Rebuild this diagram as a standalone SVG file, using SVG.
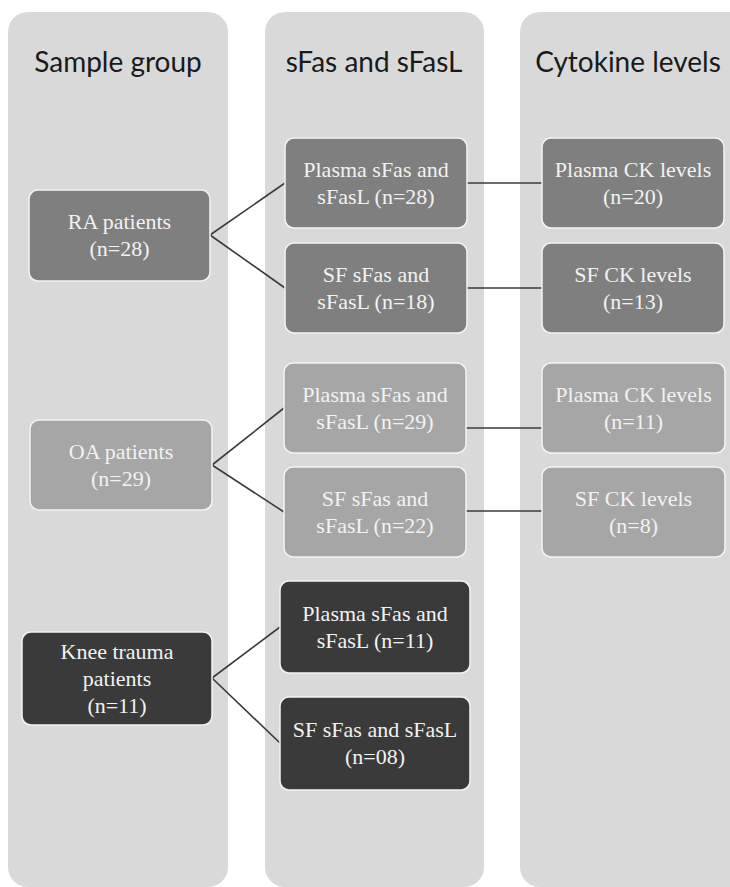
<svg xmlns="http://www.w3.org/2000/svg" width="730" height="887" viewBox="0 0 730 887">
<style>
.panel{fill:#d9d9d9}
.hdr{font-family:Lato,"Liberation Sans",sans-serif;font-size:28px;fill:#1a1a1a;text-anchor:middle}
.box{stroke:#f4f4f4;stroke-width:1.5}
.ra{fill:#7f7f7f}
.oa{fill:#a6a6a6}
.kn{fill:#3a3a3a}
.t{font-family:"Liberation Serif","Times New Roman",serif;font-size:22px;fill:#f2f2f2;text-anchor:middle}
.c{stroke:#3a3a3a;stroke-width:1.6;fill:none}
</style>
<rect width="730" height="887" fill="#ffffff"/>
<g id="panels">
<rect class="panel" x="8" y="12" width="220" height="875" rx="20"/>
<rect class="panel" x="265" y="12" width="219" height="875" rx="20"/>
<rect class="panel" x="520" y="12" width="230" height="875" rx="20"/>
<text class="hdr" x="118" y="72">Sample group</text>
<text class="hdr" x="374" y="72">sFas and sFasL</text>
<text class="hdr" x="628" y="72">Cytokine levels</text>
</g>
<g id="connectors">
<line class="c" x1="210" y1="235" x2="285" y2="183"/>
<line class="c" x1="210" y1="235" x2="285" y2="288"/>
<line class="c" x1="467" y1="183" x2="542" y2="183"/>
<line class="c" x1="467" y1="288" x2="542" y2="288"/>
<line class="c" x1="212" y1="465" x2="284" y2="408"/>
<line class="c" x1="212" y1="465" x2="284" y2="512"/>
<line class="c" x1="466" y1="428" x2="542" y2="428"/>
<line class="c" x1="466" y1="511" x2="542" y2="511"/>
<line class="c" x1="212" y1="678" x2="280" y2="627"/>
<line class="c" x1="212" y1="678" x2="280" y2="743"/>
</g>
<g id="ra">
<rect class="box ra" x="29" y="190" width="181" height="91" rx="9"/>
<text class="t" x="119.5" y="229">RA patients</text>
<text class="t" x="119.5" y="256">(n=28)</text>
</g>
<g id="ra-plasma">
<rect class="box ra" x="285" y="138" width="182" height="90" rx="9"/>
<text class="t" x="376" y="177">Plasma sFas and</text>
<text class="t" x="376" y="204">sFasL (n=28)</text>
</g>
<g id="ra-sf">
<rect class="box ra" x="285" y="243" width="182" height="90" rx="9"/>
<text class="t" x="376" y="282">SF sFas and</text>
<text class="t" x="376" y="309">sFasL (n=18)</text>
</g>
<g id="ra-plasma-ck">
<rect class="box ra" x="542" y="138" width="182" height="90" rx="9"/>
<text class="t" x="633" y="177">Plasma CK levels</text>
<text class="t" x="633" y="204">(n=20)</text>
</g>
<g id="ra-sf-ck">
<rect class="box ra" x="542" y="243" width="182" height="90" rx="9"/>
<text class="t" x="633" y="282">SF CK levels</text>
<text class="t" x="633" y="309">(n=13)</text>
</g>
<g id="oa">
<rect class="box oa" x="30" y="420" width="182" height="90" rx="9"/>
<text class="t" x="121" y="459">OA patients</text>
<text class="t" x="121" y="486">(n=29)</text>
</g>
<g id="oa-plasma">
<rect class="box oa" x="284" y="363" width="182" height="90" rx="9"/>
<text class="t" x="375" y="402">Plasma sFas and</text>
<text class="t" x="375" y="429">sFasL (n=29)</text>
</g>
<g id="oa-sf">
<rect class="box oa" x="284" y="467" width="182" height="90" rx="9"/>
<text class="t" x="375" y="506">SF sFas and</text>
<text class="t" x="375" y="533">sFasL (n=22)</text>
</g>
<g id="oa-plasma-ck">
<rect class="box oa" x="542" y="363" width="183" height="90" rx="9"/>
<text class="t" x="633.5" y="402">Plasma CK levels</text>
<text class="t" x="633.5" y="429">(n=11)</text>
</g>
<g id="oa-sf-ck">
<rect class="box oa" x="542" y="467" width="183" height="90" rx="9"/>
<text class="t" x="633.5" y="506">SF CK levels</text>
<text class="t" x="633.5" y="533">(n=8)</text>
</g>
<g id="knee">
<rect class="box kn" x="22" y="632" width="190" height="93" rx="9"/>
<text class="t" x="117" y="659">Knee trauma</text>
<text class="t" x="117" y="686">patients</text>
<text class="t" x="117" y="713">(n=11)</text>
</g>
<g id="knee-plasma">
<rect class="box kn" x="280" y="581" width="190" height="92" rx="9"/>
<text class="t" x="375" y="621">Plasma sFas and</text>
<text class="t" x="375" y="648">sFasL (n=11)</text>
</g>
<g id="knee-sf">
<rect class="box kn" x="280" y="697" width="190" height="93" rx="9"/>
<text class="t" x="375" y="737">SF sFas and sFasL</text>
<text class="t" x="375" y="764">(n=08)</text>
</g>
</svg>
